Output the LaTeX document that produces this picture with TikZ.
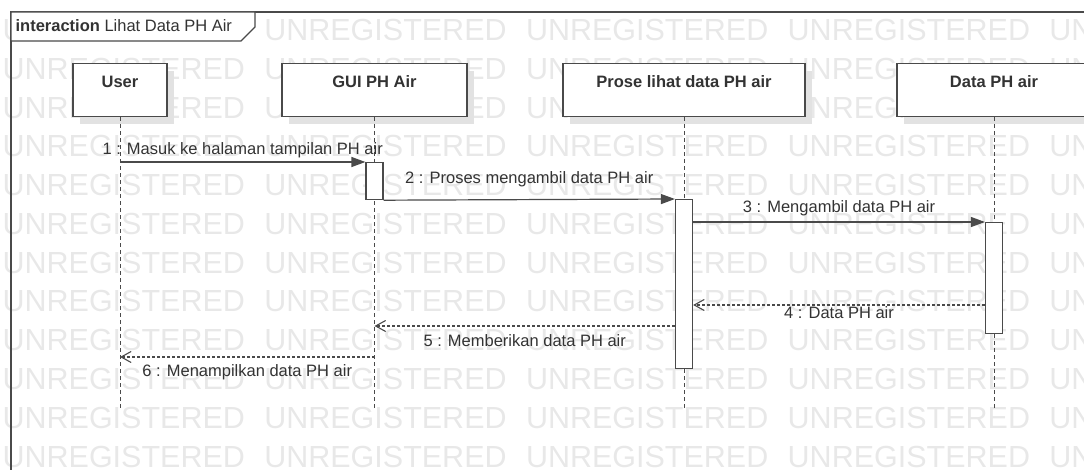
\documentclass[tikz,border=0pt]{standalone}
\usepackage{fontspec}
\setmainfont{Liberation Sans}
\usepackage{tikz}
\usetikzlibrary{arrows.meta,shadows}
\usepackage{xcolor}
\definecolor{umlline}{HTML}{4A4A4A}
\definecolor{umltext}{HTML}{333333}
\definecolor{wmgray}{HTML}{E8E8E8}
\definecolor{boxshade}{HTML}{E2E2E2}

\begin{document}
\begin{tikzpicture}[x=1pt,y=-1pt,font=\fontsize{16.5}{20}\selectfont,line width=1.2pt,
every node/.style={text=umltext,inner sep=0pt},
wm/.style={text=wmgray,anchor=base west,font=\fontsize{30.5}{30.5}\selectfont},
lifebox/.style={draw=umlline,fill=white,anchor=north,inner xsep=4pt,inner ysep=4pt,text height=20pt,text depth=25pt,font=\fontsize{16.5}{20}\selectfont\bfseries,drop shadow={shadow xshift=7pt,shadow yshift=-7pt,fill=boxshade,opacity=1}},
act/.style={draw=umlline,fill=white,anchor=north,minimum width=17pt},
lifeline/.style={draw=umlline,line width=1pt,dash pattern=on 4pt off 3pt},
msg/.style={draw=umlline,-{Triangle[length=14pt,width=10pt]}},
ret/.style={draw=umlline,line width=1.1pt,dash pattern=on 3pt off 2pt,-{Straight Barb[length=10pt,width=11pt]}},
lbl/.style={anchor=base,midway}]
\useasboundingbox (0,0) rectangle (1084,470);
\clip (0,0) rectangle (1084,470);
\foreach \r in {0,...,11}{\foreach \c in {0,...,4}{\node[wm] (wm-\r-\c) at (2+261.7*\c,40.75+38.75*\r) {UNREGISTERED};}}
% frame
\draw[umlline] (1100,12) -- (11,12) -- (11,480);
\draw[umlline,fill=white] (11,12) -- (255,12) -- (255,27) -- (241,41) -- (11,41) -- cycle;
\node[anchor=base west] (title) at (15,32) {\textbf{interaction} Lihat Data PH Air};
% lifelines
\node[lifebox,minimum width=94pt] (user) at (120,63) {User};
\node[lifebox,minimum width=185pt] (gui) at (374.5,63) {GUI PH Air};
\node[lifebox,minimum width=242pt] (prose) at (684,63) {Prose lihat data PH air};
\node[lifebox,minimum width=194pt] (data) at (994,63) {Data PH air};
\coordinate (userEnd) at (120,410);\coordinate (guiEnd) at (374.5,410);
\coordinate (proseEnd) at (684,410);\coordinate (dataEnd) at (994,410);
\draw[lifeline](user)--(userEnd);\draw[lifeline](gui)--(guiEnd);\draw[lifeline](prose)--(proseEnd);\draw[lifeline](data)--(dataEnd);
\node[act,minimum height=37pt] (act1) at (374.5,162) {};
\node[act,minimum height=169pt] (act2) at (684,199) {};
\node[act,minimum height=111pt] (act3) at (994,222) {};
% messages
\coordinate (r4) at (0,305);\coordinate (r5) at (0,326);\coordinate (r6) at (0,357);
\draw[msg] (user.south |- act1.north) -- (act1.north west) node[lbl,yshift=7pt] {1 : Masuk ke halaman tampilan PH air};
\draw[msg] (act1.south east) -- (act2.north west) node[lbl,yshift=16pt] {2 : Proses mengambil data PH air};
\draw[msg] (act2.east |- act3.north) -- (act3.north west) node[lbl,yshift=9pt] {3 : Mengambil data PH air};
\draw[ret] (act3.west |- r4) -- (act2.east |- r4) node[lbl,yshift=-13pt] {4 : Data PH air};
\draw[ret] (act2.west |- r5) -- (gui.south |- r5) node[lbl,yshift=-20pt] {5 : Memberikan data PH air};
\draw[ret] (gui.south |- r6) -- (user.south |- r6) node[lbl,yshift=-19pt] {6 : Menampilkan data PH air};
\end{tikzpicture}
\end{document}
